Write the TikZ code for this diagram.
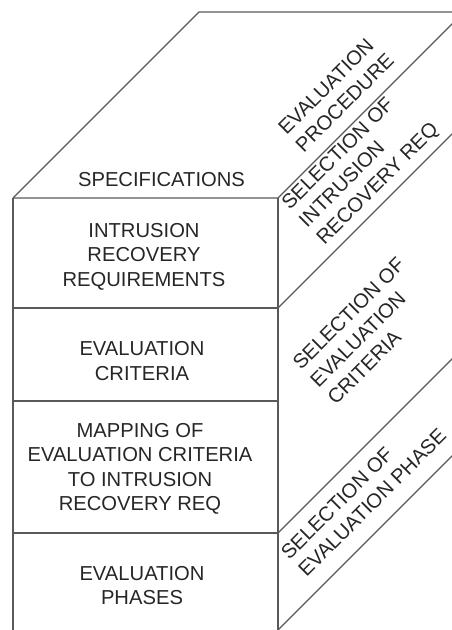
\documentclass[tikz,border=0pt]{standalone}
\usepackage{fontspec}
\setmainfont{Liberation Sans}
\begin{document}
\begin{tikzpicture}[x=1pt,y=-1pt,
  edge/.style={line width=1.2pt, draw=black!65},
  label/.style={font=\fontsize{20.2}{24.5}\selectfont, text=black!85, inner sep=0pt, align=center},
  sidelabel/.style={label, rotate=45, align=left}]
\useasboundingbox (0,0) rectangle (452,630);
\clip (0,0) rectangle (452,630);

% corners of the block
\coordinate (ftl) at (13,198);
\coordinate (ftr) at (278,198);
\coordinate (btl) at (199,12);
\coordinate (btr) at (520,12);
\coordinate (fbl) at (13,640);
\coordinate (fbr) at (278,640);
% layer boundaries on the front face
\coordinate (l1) at (13,308);  \coordinate (r1) at (278,308);
\coordinate (l2) at (13,401);  \coordinate (r2) at (278,401);
\coordinate (l3) at (13,533);  \coordinate (r3) at (278,533);
\coordinate (r4) at (278,630);

% top face
\draw[edge] (ftl) -- (btl) -- (btr);
\draw[edge] (ftl) -- (ftr) -- +(220,-220);
% front face
\draw[edge] (ftl) -- (fbl);
\draw[edge] (ftr) -- (fbr);
\draw[edge] (l1) -- (r1);
\draw[edge] (l2) -- (r2);
\draw[edge] (l3) -- (r3);
% side face divisions
\draw[edge] (r1) -- +(220,-220);
\draw[edge] (r3) -- +(220,-220);
\draw[edge] (r4) -- +(220,-220);

% top face labels
\node[label] (spec) at (161.5,180) {SPECIFICATIONS};
\node[sidelabel] (proc) at (336,94) {EVALUATION\\PROCEDURE};

% front face labels
\node[label] (req) at (144,256.5) {INTRUSION\\RECOVERY\\REQUIREMENTS};
\node[label] (crit) at (142,361) {EVALUATION\\CRITERIA};
\node[label] (map) at (140,469) {MAPPING OF\\EVALUATION CRITERIA\\TO INTRUSION\\RECOVERY REQ};
\node[label] (phases) at (142,585.5) {EVALUATION\\PHASES};

% side face labels
\node[sidelabel] (selreq) at (361,167) {SELECTION OF\\INTRUSION\\RECOVERY REQ};
\node[sidelabel] (selcrit) at (366,331) {SELECTION OF\\EVALUATION\\CRITERIA};
\node[sidelabel] (selphase) at (363.5,494) {SELECTION OF\\EVALUATION PHASE};
\end{tikzpicture}
\end{document}
